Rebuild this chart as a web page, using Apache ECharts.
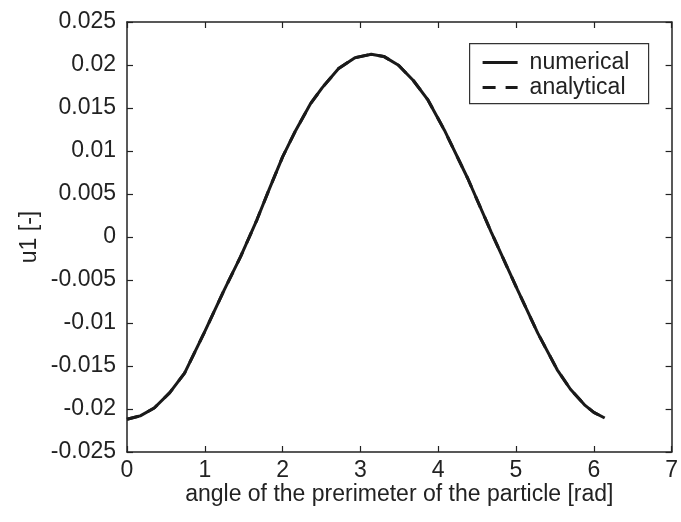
<!DOCTYPE html>
<html>
<head>
<meta charset="utf-8">
<script src="https://cdn.jsdelivr.net/npm/echarts@6/dist/echarts.min.js"></script>
<style>html,body{margin:0;padding:0;background:#fff;}#c{width:681px;height:522px;}</style>
</head>
<body>
<div id="c"></div>
<script>
var angles = [0, 0.17, 0.35, 0.55, 0.74, 0.99, 1.25, 1.46, 1.67, 1.83, 2.0, 2.17, 2.36, 2.51, 2.72, 2.93, 3.14, 3.3, 3.49, 3.68, 3.87, 4.08, 4.38, 4.68, 5.02, 5.28, 5.53, 5.7, 5.88, 6.0, 6.14];
var numerical = [-0.0212, -0.0208, -0.01989, -0.0181, -0.01583, -0.01118, -0.00615, -0.00229, 0.0020, 0.0056, 0.00932, 0.01242, 0.01552, 0.01737, 0.01959, 0.02085, 0.02125, 0.0210, 0.01997, 0.0182, 0.01591, 0.01242, 0.0068, 0.0006, -0.00615, -0.01118, -0.01544, -0.0177, -0.01951, -0.0204, -0.02105];
var analytical = [-0.0212, -0.0208, -0.01989, -0.0181, -0.01583, -0.01118, -0.00615, -0.00229, 0.0020, 0.0056, 0.00932, 0.01242, 0.01552, 0.01737, 0.01959, 0.02085, 0.02125, 0.0210, 0.01997, 0.0182, 0.01591, 0.01242, 0.0068, 0.0006, -0.00615, -0.01118, -0.01544, -0.0177, -0.01951, -0.0204, -0.02105];
var xTicks = [0, 1, 2, 3, 4, 5, 6, 7];
var yTickLabels = ['-0.025','-0.02','-0.015','-0.01','-0.005','0','0.005','0.01','0.015','0.02','0.025'];
var seriesNames = ['numerical', 'analytical'];

function pairs(xs, ys) { return xs.map(function (x, i) { return [x, ys[i]]; }); }

var FONT = 'Liberation Sans, Arial, sans-serif';
var FS = 23;
var TXT = '#222';
var LINE = '#1a1a1a';
var axisLine = { show: true, onZero: false, lineStyle: { color: '#222', width: 1.5 } };
var axisTick = { show: true, inside: true, length: 6, lineStyle: { color: '#222', width: 1.2 } };

var chart = echarts.init(document.getElementById('c'), null, { renderer: 'canvas' });
chart.setOption({
  animation: false,
  backgroundColor: '#fff',
  grid: { left: 127, right: 7, top: 22, bottom: 70, containLabel: false },
  xAxis: [{
    type: 'value', min: 0, max: 7, interval: 1, position: 'bottom',
    name: 'angle of the prerimeter of the particle [rad]',
    nameLocation: 'middle', nameGap: 31, nameMoveOverlap: false,
    nameTextStyle: { fontFamily: FONT, fontSize: FS, color: TXT },
    axisLine: axisLine, axisTick: axisTick, splitLine: { show: false },
    axisLabel: { fontFamily: FONT, fontSize: FS, color: TXT, margin: 7,
      formatter: function (v) { return xTicks.indexOf(v) >= 0 ? String(v) : ''; } }
  }, {
    type: 'value', min: 0, max: 7, interval: 1, position: 'top',
    axisLine: axisLine, axisTick: axisTick, splitLine: { show: false }, axisLabel: { show: false }
  }],
  yAxis: [{
    type: 'value', min: -0.025, max: 0.025, interval: 0.005, position: 'left',
    name: 'u1 [-]', nameLocation: 'middle', nameGap: 86, nameRotate: 90, nameMoveOverlap: false,
    nameTextStyle: { fontFamily: FONT, fontSize: FS, color: TXT },
    axisLine: axisLine, axisTick: axisTick, splitLine: { show: false },
    axisLabel: { fontFamily: FONT, fontSize: FS, color: TXT, margin: 11,
      formatter: function (v) {
        var i = Math.round((v + 0.025) / 0.005);
        return yTickLabels[i] !== undefined ? yTickLabels[i] : '';
      } }
  }, {
    type: 'value', min: -0.025, max: 0.025, interval: 0.005, position: 'right',
    axisLine: axisLine, axisTick: axisTick, splitLine: { show: false }, axisLabel: { show: false }
  }],
  graphic: [{
    type: 'group', left: 469, top: 43,
    children: [
      { type: 'rect', shape: { x: 0, y: 0, width: 179, height: 60 },
        style: { fill: '#fff', stroke: '#333', lineWidth: 1.2 } },
      { type: 'line', shape: { x1: 13, y1: 19, x2: 48, y2: 19 },
        style: { stroke: LINE, lineWidth: 3 } },
      { type: 'line', shape: { x1: 13, y1: 44, x2: 48, y2: 44 },
        style: { stroke: LINE, lineWidth: 3, lineDash: [13, 10] } },
      { type: 'text', x: 60, y: 19,
        style: { text: seriesNames[0], font: FS + 'px ' + FONT, fill: TXT, textVerticalAlign: 'middle', verticalAlign: 'middle' } },
      { type: 'text', x: 60, y: 44,
        style: { text: seriesNames[1], font: FS + 'px ' + FONT, fill: TXT, textVerticalAlign: 'middle', verticalAlign: 'middle' } }
    ]
  }],
  series: [{
    name: 'numerical', type: 'line', xAxisIndex: 0, yAxisIndex: 0,
    data: pairs(angles, numerical), showSymbol: false, symbol: 'none',
    lineStyle: { color: LINE, width: 3, type: 'solid' }, itemStyle: { color: LINE }
  }, {
    name: 'analytical', type: 'line', xAxisIndex: 0, yAxisIndex: 0,
    data: pairs(angles, analytical), showSymbol: false, symbol: 'none',
    lineStyle: { color: LINE, width: 3, type: [12, 10] }, itemStyle: { color: LINE }
  }]
});
</script>
</body>
</html>
